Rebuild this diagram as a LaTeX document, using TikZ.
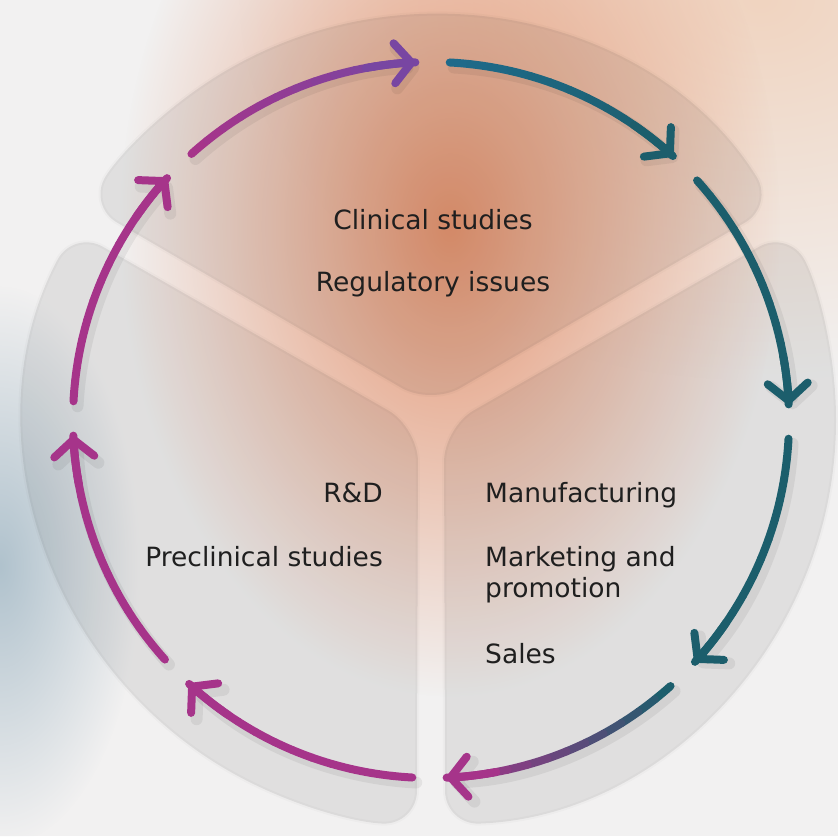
\documentclass[tikz,border=0pt]{standalone}
\usepackage{fontspec}
\setmainfont{DejaVu Sans}
\usepackage{tikz}
\usetikzlibrary{arrows.meta}
\usetikzlibrary{positioning}
\usetikzlibrary{calc, fadings}

\definecolor{plum}{RGB}{166,52,138}
\definecolor{grape}{RGB}{120,70,162}
\definecolor{petrol}{RGB}{28,94,108}
\definecolor{steel}{RGB}{30,106,138}
\definecolor{bgbase}{RGB}{242,241,241}
\definecolor{peach}{RGB}{240,212,192}
\definecolor{glow}{RGB}{228,148,112}
\definecolor{haze}{RGB}{176,194,205}

\tikzfading[name=softspot, inner color=transparent!0, outer color=transparent!100]

% one arc of the cycle, drawn in pieces so the colour can run from #3 to #4
\newcommand{\cyclearc}[4]{%
  \draw[arc shadow] ([shift={(4pt,-5pt)}]hub) ++(#1:\R) arc[start angle=#1, end angle=#2, radius=\R];
  \foreach \s in {0,...,11}{
    \pgfmathsetmacro{\aa}{#1+(#2-#1)*\s/12}
    \pgfmathsetmacro{\ab}{#1+(#2-#1)*(\s+1)/12}
    \pgfmathtruncatemacro{\mix}{100*\s/11}
    \draw[arc line, draw=#4!\mix!#3] (hub) ++(\aa:\R) arc[start angle=\aa, end angle=\ab, radius=\R];
  }
  \draw[arc line, draw=#4, -{Straight Barb[length=17pt,width=40pt,round]}] (hub) ++(#2+8:\R) arc[start angle=#2+8, end angle=#2, radius=\R];
}

\begin{document}
\begin{tikzpicture}[x=1pt,y=1pt]
\tikzstyle{lbl}=[inner sep=0, text=black!88, font=\fontsize{26.5}{31}\selectfont]
\tikzstyle{lobe}=[fill=black, fill opacity=0.07, draw=black, draw opacity=0.02, line width=4pt, rounded corners=34pt]
\tikzset{
  arc line/.style = {line width=8pt, line cap=round},
  arc shadow/.style = {line width=12pt, line cap=round, draw=black, opacity=0.06, -{Straight Barb[length=17pt,width=40pt,round]}}
}
\def\R{358pt}
\def\L{405pt}

\useasboundingbox (0,0) rectangle (838,836);
\fill[bgbase] (0,0) rectangle (838,836);
%%%%%%%%%%%%%%%%%%%%%%%%%%%%%%%%%%%
\fill[peach, path fading=softspot] (760,836) ellipse [x radius=520, y radius=380];
\fill[glow, path fading=softspot] (450,610) ellipse [x radius=330, y radius=470];
\fill[haze, path fading=softspot] (0,270) ellipse [x radius=140, y radius=280];

\coordinate (hub) at (431,416);

% the three rounded sectors
\path[lobe] ($(hub)+(90:15pt)$) -- ($(hub)+(32:\L)$) arc[start angle=32, end angle=148, radius=\L] -- cycle;
\path[lobe] ($(hub)+(210:15pt)$) -- ($(hub)+(152:\L)$) arc[start angle=152, end angle=268, radius=\L] -- cycle;
\path[lobe] ($(hub)+(-30:15pt)$) -- ($(hub)+(-88:\L)$) arc[start angle=-88, end angle=28, radius=\L] -- cycle;

%%%%%%%%%%%%%%%%%%%%%%%%%%%%%%%%%%%
\foreach \a/\ca/\cb in {132/plum/grape, 87/steel/petrol, 42/petrol/petrol, -3/petrol/petrol,
                         -48/petrol/plum, -93/plum/plum, -138/plum/plum, 177/plum/plum}
  \cyclearc{\a}{\a-39.5}{\ca}{\cb};

%%%%%%%%%%%%%%%%%%%%%%%%%%%%%%%%%%%
\node[lbl, anchor=base]       (cs) at (433,606) {Clinical studies};
\node[lbl, anchor=base]       (ri) at (433,544) {Regulatory issues};
\node[lbl, anchor=base east]  (rd) at (383,333) {R\&D};
\node[lbl, anchor=base east]  (pc) at (383,269) {Preclinical studies};
\node[lbl, anchor=base west]  (mf) at (485,333) {Manufacturing};
\node[lbl, anchor=base west, align=left] (mk) at (485,238) {Marketing and\\promotion};
\node[lbl, anchor=base west]  (sl) at (485,173) {Sales};
\end{tikzpicture}
\end{document}
